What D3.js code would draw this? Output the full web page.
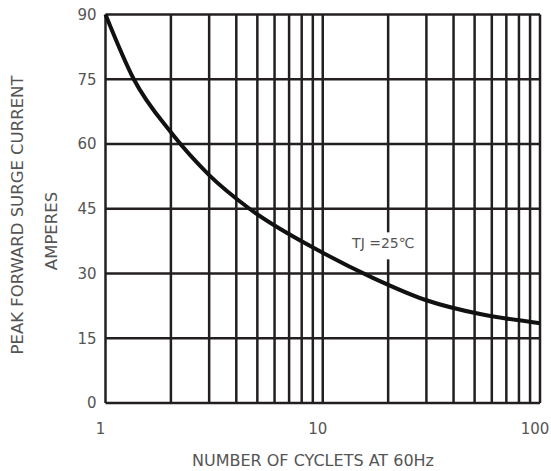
<!DOCTYPE html>
<html>
<head>
<meta charset="utf-8">
<script src="https://cdn.jsdelivr.net/npm/d3@7"></script>
<style>
  body { margin: 0; background: #fff; }
  text { font-family: "DejaVu Sans", sans-serif; fill: #555; }
</style>
</head>
<body>
<div id="chart"></div>
<script>
// surge curve
var cycles = [1, 1.35, 2, 3, 4.6, 10, 17, 30, 53, 100];
var amps = [90, 75, 62.7, 52.8, 45, 34.8, 29, 23.8, 20.6, 18.5];

var xTicks = [1, 10, 100];
var xGrid = [1, 2, 3, 4, 5, 6, 7, 8, 9, 10, 20, 30, 40, 50, 60, 70, 80, 90, 100];
var yTicks = [0, 15, 30, 45, 60, 75, 90];

var W = 551, H = 471;
var margin = { top: 14.5, right: 11, bottom: 68, left: 105.5 };
var width = W - margin.left - margin.right,
    height = H - margin.top - margin.bottom;

var svg = d3.select("#chart")
    .append("svg")
    .attr("width", W)
    .attr("height", H);

var g = svg.append("g")
    .attr("transform", "translate(" + margin.left + "," + margin.top + ")");

var x = d3.scaleLog().domain([1, 100]).range([0, width]);
var y = d3.scaleLinear().domain([0, 90]).range([height, 0]);

// grid
g.selectAll(".vgrid")
    .data(xGrid)
    .enter()
    .append("line")
    .attr("x1", function(d) { return x(d) })
    .attr("x2", function(d) { return x(d) })
    .attr("y1", 0)
    .attr("y2", height)
    .attr("stroke", "#231f20")
    .attr("stroke-width", 2.5);

g.selectAll(".hgrid")
    .data(yTicks)
    .enter()
    .append("line")
    .attr("x1", 0)
    .attr("x2", width)
    .attr("y1", function(d) { return y(d) })
    .attr("y2", function(d) { return y(d) })
    .attr("stroke", "#231f20")
    .attr("stroke-width", 2.5);

// tick labels
g.selectAll(".ylab")
    .data(yTicks)
    .enter()
    .append("text")
    .attr("x", -9)
    .attr("y", function(d) { return y(d) })
    .attr("dy", "0.36em")
    .attr("text-anchor", "end")
    .style("font-size", "15px")
    .text(function(d) { return d });

g.selectAll(".xlab")
    .data(xTicks)
    .enter()
    .append("text")
    .attr("x", function(d) { return x(d) - 5 })
    .attr("y", height + 31)
    .attr("text-anchor", "middle")
    .style("font-size", "15px")
    .text(function(d) { return d });

// label for junction temp, with white box behind it
var lab = g.append("g")
    .attr("transform", "translate(" + x(19) + "," + y(37.1) + ")");
lab.append("rect")
    .attr("x", -33).attr("y", -10.5)
    .attr("width", 66).attr("height", 27)
    .attr("fill", "#fff");
lab.append("text")
    .attr("text-anchor", "middle")
    .attr("dy", "0.36em")
    .style("font-size", "14px")
    .text("TJ =25℃");

// curve
var line = d3.line()
    .x(function(d, i) { return x(cycles[i]) })
    .y(function(d) { return y(d) })
    .curve(d3.curveMonotoneX);

g.append("path")
    .datum(amps)
    .attr("d", line)
    .attr("fill", "none")
    .attr("stroke", "#111")
    .attr("stroke-width", 4);

// axis titles
svg.append("text")
    .attr("x", 313)
    .attr("y", 466)
    .attr("text-anchor", "middle")
    .style("font-size", "16px")
    .text("NUMBER OF CYCLETS AT 60Hz");

svg.append("text")
    .attr("transform", "translate(23,215) rotate(-90)")
    .attr("text-anchor", "middle")
    .style("font-size", "16.5px")
    .text("PEAK FORWARD SURGE CURRENT");

svg.append("text")
    .attr("transform", "translate(57,231) rotate(-90)")
    .attr("text-anchor", "middle")
    .style("font-size", "16.5px")
    .text("AMPERES");
</script>
</body>
</html>
